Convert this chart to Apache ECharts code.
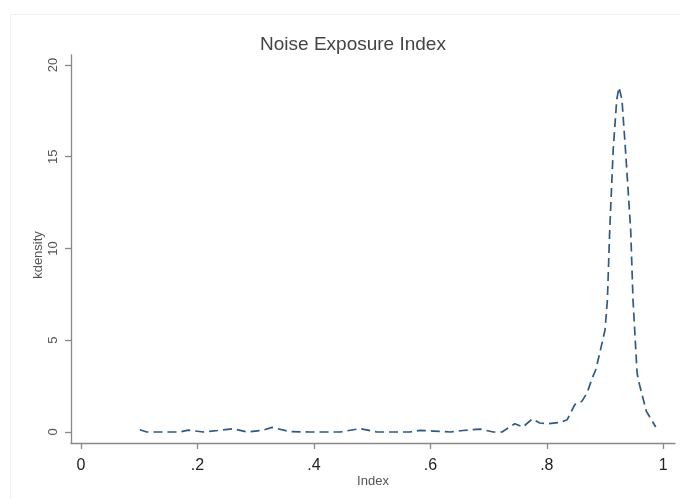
<!DOCTYPE html>
<html>
<head>
<meta charset="utf-8">
<script src="https://cdn.jsdelivr.net/npm/echarts@6/dist/echarts.min.js"></script>
<style>
html,body{margin:0;padding:0;background:#fff;}
#chart{width:680px;height:499px;}
</style>
</head>
<body>
<div id="chart"></div>
<script>
// Kernel density estimate of the Noise Exposure Index
var indexValues = [0.101,0.113,0.144,0.170,0.184,0.210,0.235,0.261,0.285,0.313,0.328,0.359,0.393,0.428,0.445,0.479,0.508,0.539,0.565,0.582,0.605,0.634,0.656,0.685,0.708,0.723,0.745,0.759,0.775,0.788,0.802,0.823,0.835,0.848,0.860,0.869,0.878,0.884,0.891,0.900,0.904,0.908,0.914,0.920,0.924,0.929,0.935,0.944,0.948,0.955,0.959,0.965,0.971,0.983,0.987];
var densityValues = [0.12,0.0,0.0,0.0,0.10,0.0,0.08,0.18,0.0,0.10,0.25,0.02,0.0,0.0,0.0,0.18,0.0,0.0,0.0,0.09,0.05,0.0,0.08,0.16,0.0,0.0,0.45,0.27,0.72,0.49,0.45,0.52,0.67,1.49,1.67,2.12,2.94,3.39,4.32,5.57,7.2,11.0,15.4,18.1,18.78,18.1,15.4,11.0,7.2,3.2,2.6,1.85,1.12,0.49,0.27];
var xTickValues = [0, 0.2, 0.4, 0.6, 0.8, 1];
var yTickValues = [0, 5, 10, 15, 20];
var titleText = 'Noise Exposure Index';
var xName = 'Index';
var yName = 'kdensity';

var seriesData = indexValues.map(function (x, i) { return [x, densityValues[i]]; });

function fmtX(v) {
  var s = String(Math.round(v * 10) / 10);
  if (s.indexOf('0.') === 0) s = s.substring(1);
  return s;
}

var chart = echarts.init(document.getElementById('chart'), null, {renderer: 'canvas'});
var FONT = '"Liberation Sans", Arial, Helvetica, sans-serif';
chart.setOption({
  animation: false,
  backgroundColor: '#ffffff',
  graphic: [{
    type: 'rect',
    left: 8, top: 12,
    shape: {width: 690, height: 500},
    style: {fill: 'none', stroke: '#f0f0f0', lineWidth: 1},
    silent: true
  }],
  title: {
    text: titleText,
    left: 348,
    textAlign: 'center',
    top: 30,
    textStyle: {fontFamily: FONT, fontSize: 19, fontWeight: 'normal', color: '#444'}
  },
  grid: {left: 71, right: 5, top: 55, bottom: 56, containLabel: false},
  xAxis: {
    type: 'value',
    min: -0.0172,
    max: 1.0201,
    name: xName,
    nameLocation: 'middle',
    nameGap: 32,
    nameMoveOverlap: false,
    nameTextStyle: {fontFamily: FONT, fontSize: 13, color: '#555'},
    splitLine: {show: false},
    axisLine: {show: true, onZero: false, lineStyle: {color: '#888', width: 1.3}},
    axisTick: {show: true, customValues: xTickValues, length: 6, lineStyle: {color: '#888', width: 1.3}},
    axisLabel: {customValues: xTickValues, formatter: fmtX, margin: 15, fontFamily: FONT, fontSize: 16, color: '#222'}
  },
  yAxis: {
    type: 'value',
    min: -0.60,
    max: 20.54,
    name: yName,
    nameLocation: 'middle',
    nameGap: 26,
    nameRotate: 90,
    nameMoveOverlap: false,
    nameTextStyle: {fontFamily: FONT, fontSize: 13, color: '#555', padding: [0, 12, 0, 0]},
    splitLine: {show: false},
    axisLine: {show: true, onZero: false, lineStyle: {color: '#888', width: 1.3}},
    axisTick: {show: true, customValues: yTickValues, length: 6, lineStyle: {color: '#888', width: 1.3}},
    axisLabel: {customValues: yTickValues, rotate: 90, margin: 11, fontFamily: FONT, fontSize: 13, color: '#555'}
  },
  series: [{
    type: 'line',
    data: seriesData,
    showSymbol: false,
    smooth: false,
    lineStyle: {color: '#2e5a84', width: 1.7, type: [9, 5]}
  }]
});
</script>
</body>
</html>
